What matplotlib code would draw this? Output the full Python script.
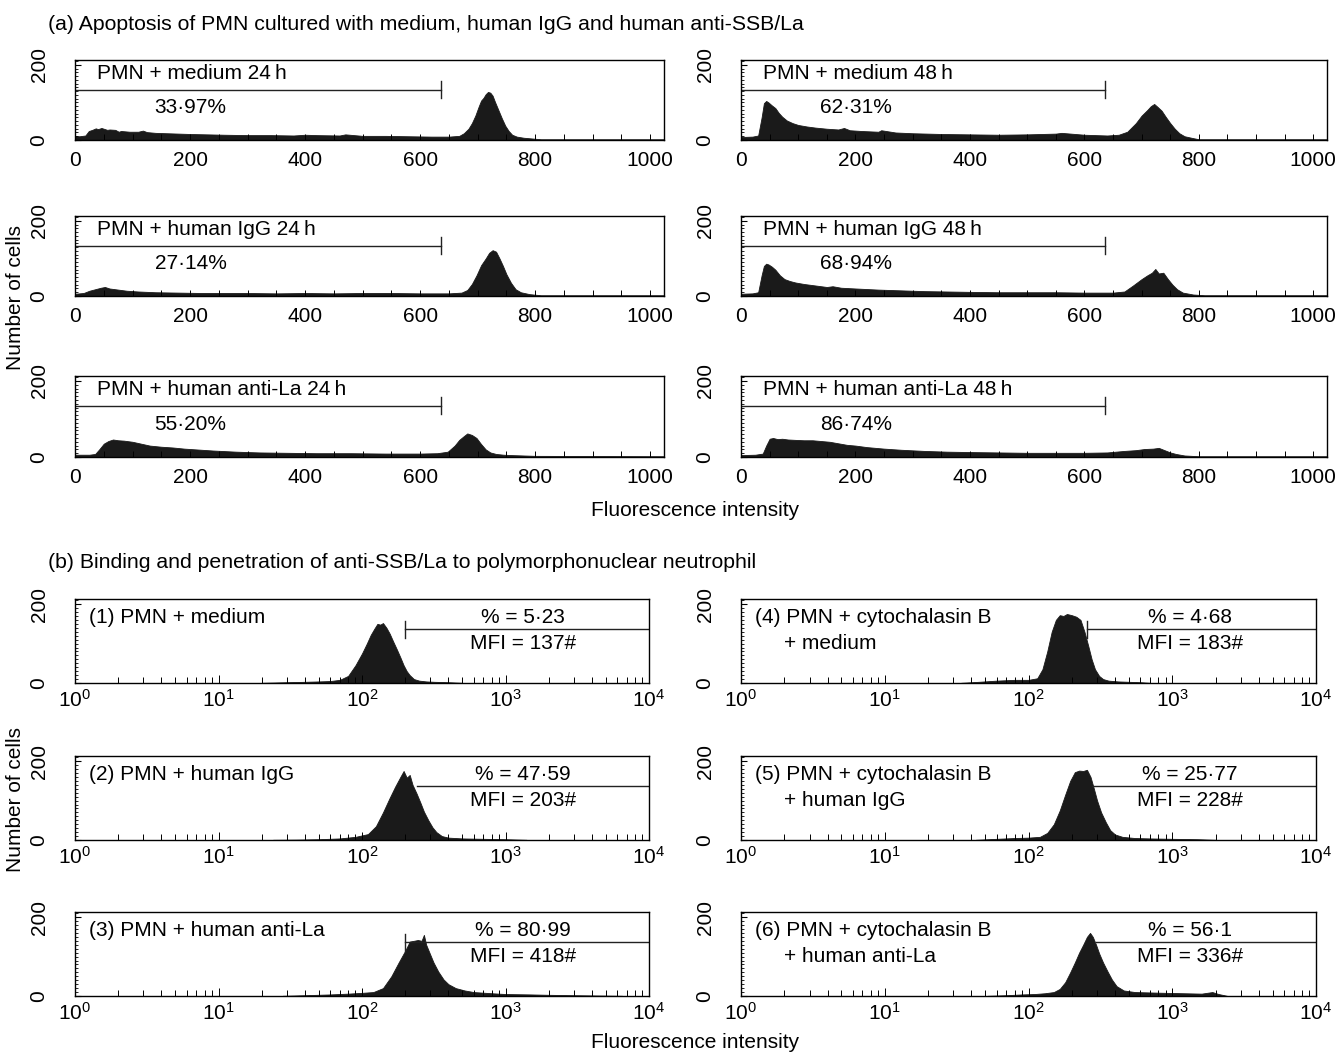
import matplotlib
matplotlib.use("Agg")
import matplotlib.pyplot as plt
from matplotlib.ticker import MultipleLocator, LogLocator, NullFormatter

plt.rcParams['font.family'] = ['Liberation Sans', 'DejaVu Sans']

# ---- data ----
# (a) linear channel histograms (channel, number of cells)
a1_x = [0, 8, 18, 24, 30, 36, 40, 46, 50, 56, 60, 70, 76, 80, 95, 110, 118, 125, 140, 160, 180, 200, 230, 260, 300, 340, 380, 400, 420, 460, 470, 500, 540, 580, 620, 650, 668, 676, 684, 690, 696, 702, 706, 710, 714, 718, 722, 726, 730, 736, 742, 748, 754, 760, 768, 780, 795, 810, 900, 1023]
a1_y = [10, 10, 12, 24, 27, 31, 29, 32, 30, 27, 28, 27, 22, 24, 22, 22, 25, 21, 19, 18, 17, 16, 15, 14, 13, 13, 12, 14, 13, 12, 15, 11, 11, 10, 9, 9, 11, 18, 30, 45, 65, 90, 105, 112, 122, 128, 126, 118, 102, 80, 58, 38, 24, 14, 9, 6, 4, 2, 2, 2]
a2_x = [0, 20, 30, 36, 40, 44, 48, 54, 60, 66, 72, 80, 90, 100, 115, 130, 150, 170, 180, 190, 210, 240, 245, 270, 300, 350, 400, 450, 500, 550, 560, 600, 640, 660, 675, 690, 700, 710, 716, 722, 728, 735, 742, 750, 758, 766, 775, 790, 800, 850, 1023]
a2_y = [8, 9, 12, 60, 98, 104, 100, 92, 85, 72, 62, 52, 45, 40, 36, 33, 30, 28, 32, 26, 24, 22, 26, 20, 18, 16, 15, 14, 15, 17, 19, 14, 12, 14, 22, 45, 65, 80, 90, 96, 88, 78, 62, 45, 30, 18, 10, 5, 2, 2, 2]
a3_x = [0, 15, 25, 35, 45, 52, 60, 75, 90, 110, 140, 180, 220, 260, 300, 350, 400, 450, 500, 550, 600, 650, 672, 682, 690, 698, 706, 714, 720, 726, 732, 738, 744, 750, 758, 766, 775, 790, 810, 1023]
a3_y = [6, 8, 14, 18, 22, 24, 20, 17, 14, 12, 10, 9, 8, 8, 8, 7, 8, 7, 8, 8, 7, 7, 9, 16, 32, 55, 82, 100, 115, 122, 118, 100, 80, 58, 35, 18, 10, 5, 2, 2]
a4_x = [0, 20, 30, 36, 40, 44, 48, 54, 60, 68, 76, 85, 95, 110, 130, 150, 160, 175, 200, 240, 280, 320, 360, 400, 450, 500, 550, 600, 650, 670, 685, 700, 710, 718, 724, 730, 738, 746, 754, 762, 772, 790, 810, 1023]
a4_y = [6, 7, 10, 55, 80, 86, 84, 78, 70, 55, 45, 40, 36, 32, 28, 24, 26, 22, 20, 17, 15, 13, 12, 11, 10, 10, 10, 9, 9, 12, 28, 45, 55, 62, 72, 60, 62, 45, 30, 18, 9, 4, 2, 2]
a5_x = [0, 25, 35, 42, 50, 58, 66, 75, 85, 100, 115, 130, 150, 170, 190, 210, 240, 280, 320, 370, 420, 480, 540, 600, 630, 648, 660, 668, 676, 682, 690, 698, 706, 714, 722, 732, 745, 760, 800, 1023]
a5_y = [6, 6, 8, 20, 35, 42, 46, 44, 43, 40, 35, 30, 27, 25, 22, 20, 17, 14, 12, 11, 10, 10, 9, 9, 10, 14, 30, 45, 55, 62, 58, 50, 34, 20, 12, 8, 6, 5, 3, 2]
a6_x = [0, 25, 38, 44, 50, 56, 64, 72, 82, 95, 110, 125, 140, 155, 170, 185, 200, 220, 250, 280, 320, 360, 400, 450, 500, 550, 600, 640, 670, 690, 705, 720, 730, 740, 750, 760, 775, 800, 1023]
a6_y = [5, 6, 9, 30, 48, 50, 47, 48, 46, 45, 44, 44, 42, 40, 36, 32, 30, 26, 22, 19, 16, 14, 13, 12, 11, 11, 11, 12, 16, 18, 21, 22, 24, 18, 12, 8, 4, 2, 2]

a_titles = ["PMN + medium 24\u2009h", "PMN + medium 48\u2009h",
			"PMN + human IgG 24\u2009h", "PMN + human IgG 48\u2009h",
			"PMN + human anti-La 24\u2009h", "PMN + human anti-La 48\u2009h"]
a_percent = ["33·97%", "62·31%", "27·14%", "68·94%", "55·20%", "86·74%"]
a_gate = [636, 636, 636, 636, 636, 636]

# (b) log fluorescence histograms (intensity, number of cells)
b1_x = [20, 30, 40, 50, 60, 70, 80, 90, 100, 108, 115, 122, 128, 134, 140, 148, 156, 165, 175, 185, 195, 205, 215, 230, 250, 280, 320, 400, 500]
b1_y = [0.5, 2, 3, 4, 5, 8, 18, 45, 75, 100, 122, 138, 150, 148, 152, 140, 125, 105, 85, 65, 45, 30, 20, 10, 6, 4, 3, 2, 0.5]
b2_x = [24, 35, 50, 70, 90, 110, 125, 140, 155, 170, 185, 195, 205, 215, 225, 240, 255, 270, 290, 310, 330, 360, 400, 500, 700, 1000, 1400]
b2_y = [0.5, 1, 2, 4, 8, 15, 35, 70, 105, 135, 160, 175, 158, 165, 140, 118, 95, 72, 50, 32, 20, 10, 6, 4, 3, 2, 0.5]
b3_x = [28, 40, 60, 80, 100, 120, 140, 160, 180, 200, 215, 230, 245, 260, 270, 280, 295, 315, 340, 370, 400, 450, 520, 600, 800, 1000, 1500, 2000, 3000, 5000, 6500]
b3_y = [0.5, 2, 4, 6, 8, 10, 20, 50, 85, 115, 138, 140, 142, 140, 155, 130, 110, 85, 62, 42, 30, 20, 14, 10, 7, 5, 4, 3, 2, 1, 0.5]
b4_x = [34, 45, 60, 80, 100, 115, 125, 135, 145, 155, 165, 175, 185, 200, 215, 230, 245, 260, 275, 290, 310, 330, 360, 420, 500, 600, 700]
b4_y = [0.5, 3, 6, 8, 8, 12, 35, 80, 130, 160, 172, 170, 175, 172, 168, 160, 130, 95, 60, 35, 18, 10, 6, 4, 3, 2, 0.5]
b5_x = [43, 60, 80, 100, 120, 135, 150, 165, 180, 195, 210, 225, 240, 255, 270, 285, 300, 320, 345, 370, 400, 450, 550, 700, 1000, 1500, 2000]
b5_y = [0.5, 3, 5, 6, 8, 18, 40, 75, 115, 150, 172, 176, 175, 178, 160, 130, 100, 70, 45, 25, 14, 8, 5, 4, 3, 2, 0.5]
b6_x = [52, 70, 90, 110, 130, 150, 165, 180, 195, 210, 225, 240, 255, 268, 280, 295, 310, 330, 355, 380, 410, 460, 550, 700, 900, 1200, 1600, 1900, 2100, 2400]
b6_y = [0.5, 2, 4, 5, 7, 10, 18, 35, 60, 85, 110, 130, 150, 160, 150, 130, 108, 85, 62, 42, 25, 14, 10, 9, 8, 7, 6, 10, 5, 0.5]

# panel order: left column then right column, row by row
b_titles = ["(1) PMN + medium", "(4) PMN + cytochalasin B",
			"(2) PMN + human IgG", "(5) PMN + cytochalasin B",
			"(3) PMN + human anti-La", "(6) PMN + cytochalasin B"]
b_titles2 = ["", "+ medium", "", "+ human IgG", "", "+ human anti-La"]
b_percent = ["% = 5·23", "% = 4·68", "% = 47·59", "% = 25·77", "% = 80·99", "% = 56·1"]
b_mfi = ["MFI = 137#", "MFI = 183#", "MFI = 203#", "MFI = 228#", "MFI = 418#", "MFI = 336#"]
b_gate = [200, 255, 240, 275, 200, 295]
b_gate_tick = [True, True, False, False, True, False]

a_data = [(a1_x, a1_y), (a2_x, a2_y), (a3_x, a3_y), (a4_x, a4_y), (a5_x, a5_y), (a6_x, a6_y)]
b_data = [(b1_x, b1_y), (b4_x, b4_y), (b2_x, b2_y), (b5_x, b5_y), (b3_x, b3_y), (b6_x, b6_y)]

W, H = 1339, 1056
fig = plt.figure(figsize=(W / 100, H / 100), dpi=100)
FILL = '#1a1a1a'
FS = 15


def add_box(left, top, right, bottom):
	return fig.add_axes([left / W, 1 - bottom / H, (right - left) / W, (bottom - top) / H])


# Common y axis styling for all histograms.
def style_y(ax):
	ax.set_ylim(0, 213)
	ax.set_yticks([0, 200])
	ax.set_yticklabels(['0', '200'], rotation=90, va='center', fontsize=FS)
	ax.yaxis.set_minor_locator(MultipleLocator(10))
	ax.tick_params(axis='y', which='major', direction='in', length=4, width=0.8, pad=19)
	ax.tick_params(axis='y', which='minor', direction='in', length=2, width=0.6)
	for s in ax.spines.values():
		s.set_linewidth(1.0)


# (a) panels, linear axis.
a_rows = [(60, 140), (216, 296), (376, 457)]
a_cols = [(75, 664), (741, 1327)]
for i in range(6):
	top, bottom = a_rows[i // 2]
	left, right = a_cols[i % 2]
	ax = add_box(left, top, right, bottom)
	x, y = a_data[i]
	ax.fill_between(x, 0, y, color=FILL, linewidth=0.6, edgecolor=FILL)
	ax.set_xlim(0, 1024)
	ax.set_xticks([0, 200, 400, 600, 800, 1000])
	ax.xaxis.set_minor_locator(MultipleLocator(50))
	ax.tick_params(axis='x', which='both', direction='in', length=4, width=0.7, labelsize=FS, pad=8)
	style_y(ax)
	# gate marker
	ax.plot([0, a_gate[i]], [134, 134], color='#222222', lw=1.0)
	ax.plot([a_gate[i], a_gate[i]], [113, 157], color='#222222', lw=1.0)
	ax.text(38, 178, a_titles[i], fontsize=FS, va='center', ha='left')
	ax.text(201, 86, a_percent[i], fontsize=FS, va='center', ha='center')

# (b) panels, log axis.
b_rows = [(599, 683), (756, 840), (912, 996)]
b_cols = [(75, 649), (741, 1316)]
for i in range(6):
	top, bottom = b_rows[i // 2]
	left, right = b_cols[i % 2]
	ax = add_box(left, top, right, bottom)
	x, y = b_data[i]
	ax.fill_between(x, 0, y, color=FILL, linewidth=0.6, edgecolor=FILL)
	ax.set_xscale('log')
	ax.set_xlim(1, 1e4)
	ax.xaxis.set_major_locator(LogLocator(base=10, numticks=10))
	ax.xaxis.set_minor_locator(LogLocator(base=10, subs=range(2, 10), numticks=10))
	ax.xaxis.set_minor_formatter(NullFormatter())
	ax.tick_params(axis='x', which='major', direction='in', length=6, width=0.7, labelsize=FS, pad=4)
	ax.tick_params(axis='x', which='minor', direction='in', length=4, width=0.7)
	style_y(ax)
	# gate marker
	ax.plot([b_gate[i], 1e4], [136, 136], color='#222222', lw=1.0)
	if b_gate_tick[i]:
		ax.plot([b_gate[i], b_gate[i]], [115, 157], color='#222222', lw=1.0)
	ax.text(1.25, 166, b_titles[i], fontsize=FS, va='center', ha='left')
	if b_titles2[i]:
		ax.text(2.0, 100, b_titles2[i], fontsize=FS, va='center', ha='left')
	ax.text(1330, 166, b_percent[i], fontsize=FS, va='center', ha='center')
	ax.text(1330, 100, b_mfi[i], fontsize=FS, va='center', ha='center')

# Figure texts
fig.text(48 / W, 1 - 25 / H, "(a) Apoptosis of PMN cultured with medium, human IgG and human anti-SSB/La",
		fontsize=15.3, va='center', ha='left')
fig.text(48 / W, 1 - 563 / H, "(b) Binding and penetration of anti-SSB/La to polymorphonuclear neutrophil",
		fontsize=15.3, va='center', ha='left')
fig.text(695 / W, 1 - 510 / H, "Fluorescence intensity", fontsize=FS, va='center', ha='center')
fig.text(695 / W, 1 - 1043 / H, "Fluorescence intensity", fontsize=FS, va='center', ha='center')
fig.text(16 / W, 1 - 297 / H, "Number of cells", fontsize=FS, va='center', ha='center', rotation=90)
fig.text(16 / W, 1 - 800 / H, "Number of cells", fontsize=FS, va='center', ha='center', rotation=90)

fig.savefig("out.png", dpi=100)
